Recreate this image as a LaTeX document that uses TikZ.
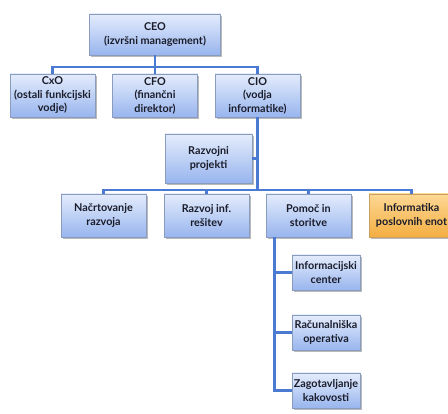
\documentclass[tikz,border=0pt]{standalone}
\usepackage{fontspec}
\setmainfont{Lato}
\usetikzlibrary{shadows}
\definecolor{linkblue}{HTML}{4A7AD2}
\definecolor{boxedge}{HTML}{8A9CBE}
\definecolor{boxtop}{HTML}{E4ECFC}
\definecolor{boxbot}{HTML}{98B5EE}
\definecolor{hltop}{HTML}{FDD894}
\definecolor{hlbot}{HTML}{F4AE42}
\definecolor{hledge}{HTML}{C9A060}
\definecolor{ink}{HTML}{1A1C2A}
\begin{document}
\begin{tikzpicture}[x=1pt,y=-1pt,
  box/.style={rectangle, draw=boxedge, line width=0.8pt,
    top color=boxtop, bottom color=boxbot,
    minimum width=85pt, minimum height=43pt, inner sep=1pt,
    align=center, text=ink, font=\fontsize{10.8}{13.5}\selectfont\bfseries,
    drop shadow={shadow xshift=1.8pt, shadow yshift=-1.8pt, opacity=0.45, fill=black!60}},
  hlbox/.style={box, draw=hledge, top color=hltop, bottom color=hlbot},
  link/.style={draw=linkblue, line width=2.4pt}]
\useasboundingbox (0,0) rectangle (448,414);
\clip (0,0) rectangle (448,414);

% top level
\node[box, minimum width=131pt, minimum height=41pt] (ceo) at (155,34.5) {CEO\\(izvršni management)};

% second level
\node[box] (cxo) at (52.5,95.5) {CxO\\(ostali funkcijski\\vodje)};
\node[box] (cfo) at (155,95.5) {CFO\\(finančni\\direktor)};
\node[box] (cio) at (257.5,95.5) {CIO\\(vodja\\informatike)};

% staff unit under CIO
\node[box, minimum width=87pt, minimum height=49pt] (razp) at (208.5,158.5) {Razvojni\\projekti};

% third level
\node[box] (nac) at (103.5,215.5) {Načrtovanje\\razvoja};
\node[box] (raz) at (206.5,215.5) {Razvoj inf.\\rešitev};
\node[box] (pom) at (308.5,215.5) {Pomoč in\\storitve};
\node[hlbox] (inf) at (411.5,215.5) {Informatika\\poslovnih enot};

% units under Pomoč in storitve
\node[box, minimum width=68pt, minimum height=35pt] (ic) at (326,272.5) {Informacijski\\center};
\node[box, minimum width=68pt, minimum height=35pt] (ro) at (326,332.5) {Računalniška\\operativa};
\node[box, minimum width=68pt, minimum height=35pt] (zk) at (326,390.5) {Zagotavljanje\\kakovosti};

% connectors
\coordinate (bara) at (0,67);
\coordinate (barb) at (0,190);
\path[link] (ceo.south) -- (ceo.south |- bara);
\path[link] (cxo.north) -- (cxo.north |- bara) -- (cio.north |- bara) -- (cio.north);
\path[link] (cfo.north) -- (cfo.north |- bara);
\path[link] (cio.south) -- (cio.south |- barb);
\path[link] (razp.east) -- (razp.east -| cio.south);
\path[link] (nac.north) -- (nac.north |- barb) -- (inf.north |- barb) -- (inf.north);
\path[link] (raz.north) -- (raz.north |- barb);
\path[link] (pom.north) -- (pom.north |- barb);
\coordinate (stem) at ([xshift=9pt]pom.south west);
\path[link] (stem) -- (stem |- zk.west) -- (zk.west);
\path[link] (ic.west -| stem) -- (ic.west);
\path[link] (ro.west -| stem) -- (ro.west);
\end{tikzpicture}
\end{document}
